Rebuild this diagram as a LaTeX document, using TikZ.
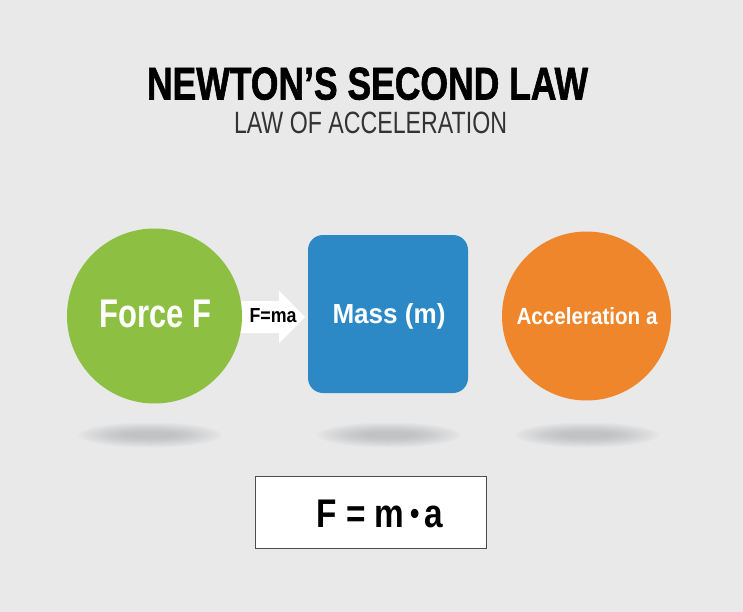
\documentclass[tikz,border=0pt]{standalone}
\usepackage{fontspec}
\setmainfont{Liberation Sans}
\newfontfamily\heavyfont[FakeBold=1.6]{Liberation Sans Bold}
\usetikzlibrary{calc,backgrounds}
\definecolor{bg}{HTML}{E9E9E9}
\definecolor{forcegreen}{HTML}{8DC042}
\definecolor{massblue}{HTML}{2C89C5}
\definecolor{accorange}{HTML}{EF862B}
\definecolor{subc}{HTML}{333333}
\definecolor{boxc}{HTML}{4D4D4D}
\definecolor{shadowc}{HTML}{9A9EA3}
\tikzset{
  txt/.style={anchor=base west, inner sep=0pt, outer sep=0pt},
  shapenode/.style={inner sep=0pt, outer sep=0pt},
  shadowblob/.style={fill=shadowc, opacity=0.045},
}
\begin{document}
\begin{tikzpicture}[x=1pt,y=-1pt]
\useasboundingbox (0,0) rectangle (743,612);
% shapes
\node[shapenode, circle, fill=forcegreen, minimum size=175pt] (force) at (154.5,316) {};
\node[shapenode, rectangle, rounded corners=15pt, fill=massblue, minimum width=160pt, minimum height=158pt] (mass) at (388,314) {};
\node[shapenode, circle, fill=accorange, minimum size=169pt] (acc) at (586.5,316) {};
\node[shapenode, rectangle, draw=boxc, line width=1.5pt, fill=white, minimum width=231pt, minimum height=72pt] (eqbox) at (371,512.5) {};
% background, shadows, arrow
\begin{scope}[on background layer]
  \fill[bg] (0,0) rectangle (743,612);
  \foreach \cx in {150,389,587}{
    \foreach \k in {0,...,13}{
      \fill[shadowblob] (\cx,435) ellipse ({(72-3.6*\k)*1pt} and {(12.5-0.75*\k)*1pt});
    }
  }
  \coordinate (aL) at ($(force.east)+(-14,1)$);
  \coordinate (aT) at ($(mass.west)+(-3,3)$);
  \fill[white] ($(aL)+(0,-16)$) -- ($(aT)+(-26,-16)$) -- ($(aT)+(-26,-26.5)$) -- (aT)
     -- ($(aT)+(-26,26.5)$) -- ($(aT)+(-26,16)$) -- ($(aL)+(0,16)$) -- cycle;
\end{scope}
% texts
\node[txt] (title) at (147,99.5) {\resizebox{441pt}{32pt}{\heavyfont NEWTON’S SECOND LAW}};
\node[txt] (subtitle) at (234,134) {\resizebox{273pt}{21.5pt}{\color{subc}LAW OF ACCELERATION}};
\node[txt] (forcetxt) at (99.5,327.5) {\resizebox{112pt}{27.5pt}{\color{white}\bfseries Force F}};
\node[txt] (fmatxt) at (249.5,322) {\resizebox{47pt}{14pt}{\bfseries F=ma}};
\node[txt] (masstxt) at (332.5,323.5) {\resizebox{113pt}{20pt}{\color{white}\bfseries Mass (m)}};
\node[txt] (acctxt) at (516.5,324.5) {\resizebox{141pt}{17pt}{\color{white}\bfseries Acceleration a}};
\node[txt] (eqtxt) at (316.5,527) {\resizebox{127pt}{27.5pt}{\bfseries F = m\,\raisebox{0.06em}{\scalebox{0.8}{•}}\,a}};
\end{tikzpicture}
\end{document}
